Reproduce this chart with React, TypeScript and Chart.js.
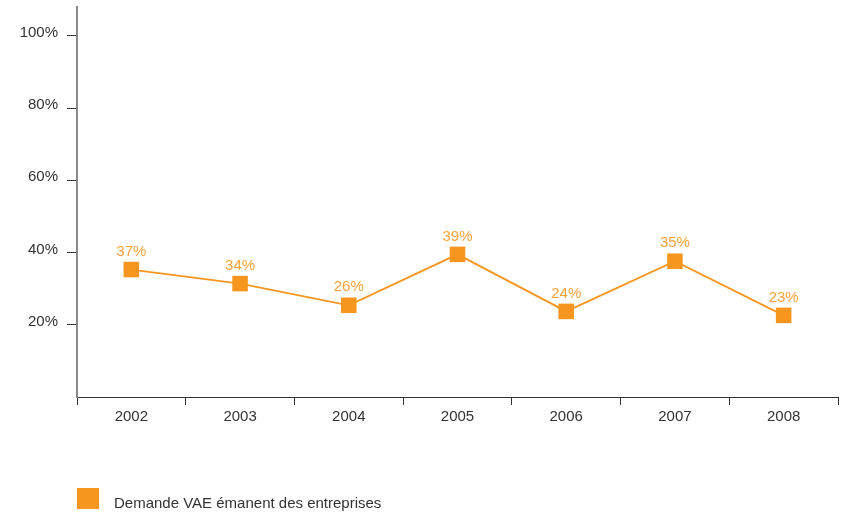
import React, { useEffect, useRef } from "react";
import { Chart, registerables } from "chart.js";

Chart.register(...registerables);

const categories = ["2002", "2003", "2004", "2005", "2006", "2007", "2008"];
const values = [35.3, 31.4, 25.4, 39.5, 23.7, 37.6, 22.6];
const valueLabels = ["37%", "34%", "26%", "39%", "24%", "35%", "23%"];
const yTicks = [20, 40, 60, 80, 100];
const seriesName = "Demande VAE émanent des entreprises";

const ORANGE = "#F7961E";
const LABEL_ORANGE = "#F6A23C";
const FONT = "'Liberation Sans', Arial, Helvetica, sans-serif";

export default function App() {
  const ref = useRef<HTMLCanvasElement | null>(null);

  useEffect(() => {
    if (!ref.current) return;

    const labelPlugin = {
      id: "valueLabels",
      afterDatasetsDraw(chart: any) {
        const ctx = chart.ctx;
        const meta = chart.getDatasetMeta(0);
        ctx.save();
        ctx.fillStyle = LABEL_ORANGE;
        ctx.font = `15px ${FONT}`;
        ctx.textAlign = "center";
        ctx.textBaseline = "middle";
        meta.data.forEach((pt: any, i: number) => {
          ctx.fillText(valueLabels[i], pt.x, pt.y - 18);
        });
        ctx.restore();
      },
    };

    const legendPlugin = {
      id: "customLegend",
      afterDraw(chart: any) {
        const ctx = chart.ctx;
        const left = chart.chartArea.left;
        const h = chart.height;
        ctx.save();
        ctx.fillStyle = ORANGE;
        ctx.fillRect(left, h - 26, 22, 21);
        ctx.fillStyle = "#333333";
        ctx.font = `15px ${FONT}`;
        ctx.textAlign = "left";
        ctx.textBaseline = "middle";
        ctx.fillText(seriesName, left + 37, h - 10);
        ctx.restore();
      },
    };

    const chart = new Chart(ref.current, {
      type: "line",
      data: {
        labels: categories,
        datasets: [
          {
            label: seriesName,
            data: values,
            borderColor: ORANGE,
            backgroundColor: ORANGE,
            borderWidth: 1.8,
            pointStyle: "rect",
            pointRadius: 11,
            pointBorderWidth: 0,
            pointBackgroundColor: ORANGE,
            tension: 0,
          },
        ],
      },
      options: {
        animation: false,
        responsive: true,
        maintainAspectRatio: false,
        layout: { autoPadding: false, padding: { top: 7, right: 5, left: 0, bottom: 0 } },
        plugins: {
          legend: { display: false },
          tooltip: { enabled: false },
        },
        scales: {
          x: {
            type: "category",
            offset: true,
            grid: {
              offset: true,
              drawOnChartArea: false,
              drawTicks: true,
              tickLength: 8,
              color: "#333333",
            },
            border: { color: "#333333", width: 1 },
            ticks: {
              color: "#333333",
              font: { family: FONT, size: 15 },
              padding: 3,
              maxRotation: 0,
            },
            afterFit(scale: any) {
              scale.height = 117;
              scale.paddingLeft = 0;
              scale.paddingRight = 0;
            },
          },
          y: {
            min: 0,
            max: 108,
            afterBuildTicks(scale: any) {
              scale.ticks = yTicks.map((v) => ({ value: v }));
            },
            grid: {
              drawOnChartArea: false,
              drawTicks: true,
              tickLength: 10,
              color: "#333333",
            },
            border: { color: "#8a8a8a", width: 2 },
            ticks: {
              color: "#333333",
              font: { family: FONT, size: 15 },
              padding: 9,
              labelOffset: -3,
              callback: (v: any) => `${v}%`,
            },
            afterFit(scale: any) {
              scale.width = 77;
              scale.paddingTop = 0;
              scale.paddingBottom = 0;
            },
          },
        },
      },
      plugins: [labelPlugin, legendPlugin],
    });

    return () => chart.destroy();
  }, []);

  return (
    <div style={{ position: "fixed", left: 0, top: 0, width: 843, height: 514, background: "#ffffff" }}>
      <canvas ref={ref} />
    </div>
  );
}
